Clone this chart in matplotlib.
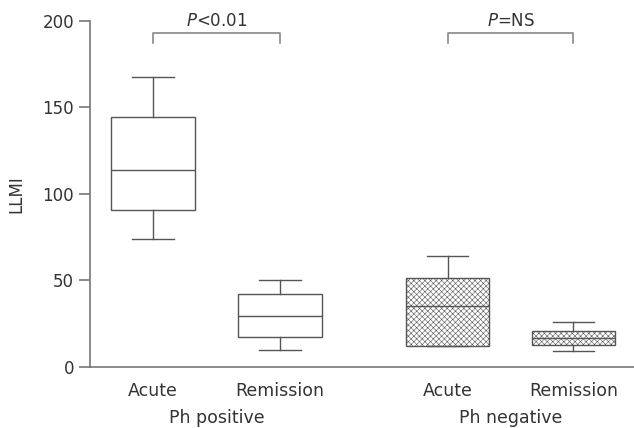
import matplotlib
matplotlib.use("Agg")
import matplotlib.pyplot as plt

plt.rcParams['font.family'] = ['DejaVu Sans']
plt.rcParams['mathtext.fontset'] = 'dejavusans'
plt.rcParams['hatch.color'] = '#cdcdcd'
plt.rcParams['hatch.linewidth'] = 0.4

# Datos (LLMI)
labels = ['Acute', 'Remission', 'Acute', 'Remission']
groups = ['Ph positive', 'Ph negative']
whislo = [74, 9.7, 12, 8.9]
q1 = [90.7, 17, 12.2, 12.5]
med = [113.6, 29.3, 35, 16.6]
q3 = [144.5, 42.2, 51.3, 20.8]
whishi = [167.8, 50, 64, 25.7]
p_texts = ['$P$<0.01', '$P$=NS']

positions = [1, 2, 3.32, 4.31]
stats = []
for i in range(len(labels)):
    stats.append({'whislo': whislo[i], 'q1': q1[i], 'med': med[i],
                  'q3': q3[i], 'whishi': whishi[i], 'fliers': []})

fig = plt.figure(figsize=(6.34, 4.28), dpi=100)
ax = fig.add_axes([0.142, 0.143, 0.858, 0.808])

col = '#555555'
bp = ax.bxp(stats, positions=positions, widths=0.654, patch_artist=True,
            showfliers=False,
            boxprops=dict(facecolor='white', edgecolor=col, linewidth=1),
            medianprops=dict(color=col, linewidth=1),
            whiskerprops=dict(color=col, linewidth=1),
            capprops=dict(color=col, linewidth=1))
for b in bp['boxes'][2:]:
    b.set_hatch('xxxxxx')

ax.set_xlim(0.504, 4.787)
ax.set_ylim(0, 200)
ax.set_yticks([0, 50, 100, 150, 200])
ax.set_xticks(positions)
ax.set_xticklabels(labels)
ax.tick_params(axis='x', length=0, labelsize=12.5, pad=11, colors='#333333')
ax.tick_params(axis='y', length=8, width=1.2, labelsize=12, colors='#333333', color='#777777')
ax.spines['top'].set_visible(False)
ax.spines['right'].set_visible(False)
ax.spines['left'].set_color('#777777')
ax.spines['bottom'].set_color('#777777')
ax.spines['left'].set_linewidth(1.2)
ax.spines['bottom'].set_linewidth(1.2)
ax.spines['left'].set_bounds(0, 200)
ax.set_ylabel('LLMI', fontsize=12, color='#333333', labelpad=12)

# Etiquetas de grupo
for j, g in enumerate(groups):
    xc = (positions[2 * j] + positions[2 * j + 1]) / 2
    ax.text(xc, -0.148, g, transform=ax.get_xaxis_transform(), ha='center',
            va='center', fontsize=12.5, color='#333333')

# Corchetes de significancia
for j, t in enumerate(p_texts):
    x1, x2 = positions[2 * j], positions[2 * j + 1]
    ax.plot([x1, x1, x2, x2], [187, 193, 193, 187], color='#888888',
            linewidth=1.2, clip_on=False)
    ax.text((x1 + x2) / 2, 200, t, ha='center', va='center', fontsize=12,
            color='#333333', clip_on=False)

fig.savefig('out.png', dpi=100)
